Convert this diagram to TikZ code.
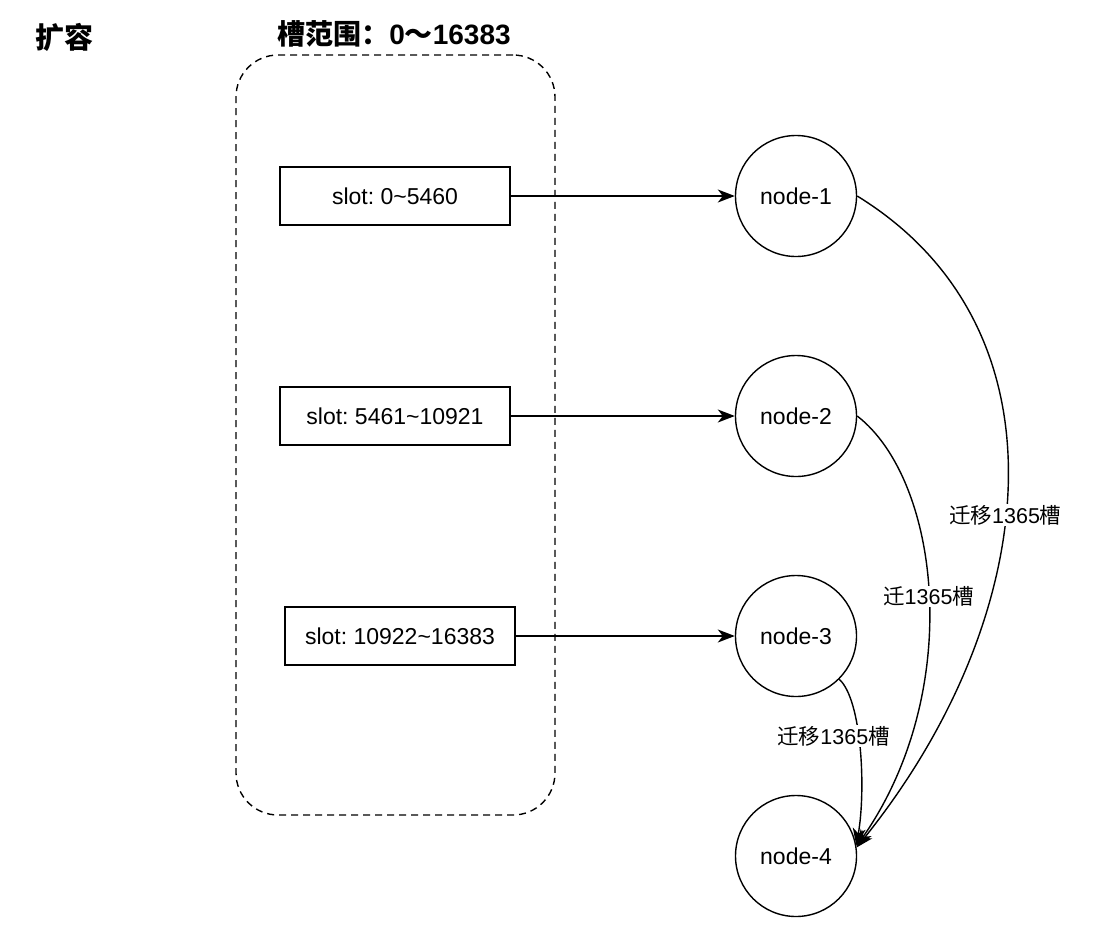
\documentclass[tikz,border=0pt]{standalone}
\usepackage{fontspec}
\setmainfont{Liberation Sans}
\newfontfamily\cjk{Noto Sans CJK SC}
\usetikzlibrary{arrows.meta,positioning}
\frenchspacing

\begin{document}
\begin{tikzpicture}[x=1pt,y=-1pt,
    slotbox/.style={draw,line width=1.4pt,minimum width=230pt,minimum height=58pt,font=\fontsize{23}{27}\selectfont},
    srv/.style={draw,circle,line width=1.4pt,minimum size=121pt,inner sep=0pt,font=\fontsize{23}{27}\selectfont},
    arr/.style={-{Stealth[length=17pt,width=13pt,inset=5pt]},line width=1.4pt},
    mv/.style={fill=white,inner sep=1pt,font=\fontsize{21.5}{25}\selectfont},
    head/.style={font=\bfseries\fontsize{28}{32}\selectfont}
]
\useasboundingbox (0,0) rectangle (1104,946);

\node[head,font=\bfseries\fontsize{29}{33}\selectfont] (title) at (64,37) {\cjk 扩容};
\node[head] (range) at (394,34) {{\cjk 槽范围：}0{\cjk ～}16383};
\node[draw,dashed,dash pattern=on 7pt off 5pt,line width=1.4pt,rounded corners=42pt,
      minimum width=319pt,minimum height=760pt] (pool) at (395.5,435) {};

\node[slotbox] (s1) at (395,196) {slot: 0\textasciitilde5460};
\node[slotbox] (s2) at (395,416) {slot: 5461\textasciitilde10921};
\node[slotbox] (s3) at (400,636) {slot: 10922\textasciitilde16383};

\node[srv] (n1) at (796,196) {node-1};
\node[srv] (n2) at (796,416) {node-2};
\node[srv] (n3) at (796,636) {node-3};
\node[srv] (n4) at (796,856) {node-4};

\draw[arr] (s1) -- (n1);
\draw[arr] (s2) -- (n2);
\draw[arr] (s3) -- (n3);

% migrate slots to the new node
\draw[arr] (n1.east) .. controls (1075,330) and (1040,620) .. node[mv,pos=0.54] {{\cjk 迁移}1365{\cjk 槽}} (n4.8);
\draw[arr] (n2.east) .. controls (940,480) and (965,690) .. node[mv,pos=0.5] {{\cjk 迁}1365{\cjk 槽}} (n4.9);
\draw[arr] (n3.-45) .. controls (862,700) and (866,790) .. node[mv,pos=0.43,xshift=-25pt] {{\cjk 迁移}1365{\cjk 槽}} (n4.10);
\end{tikzpicture}
\end{document}
